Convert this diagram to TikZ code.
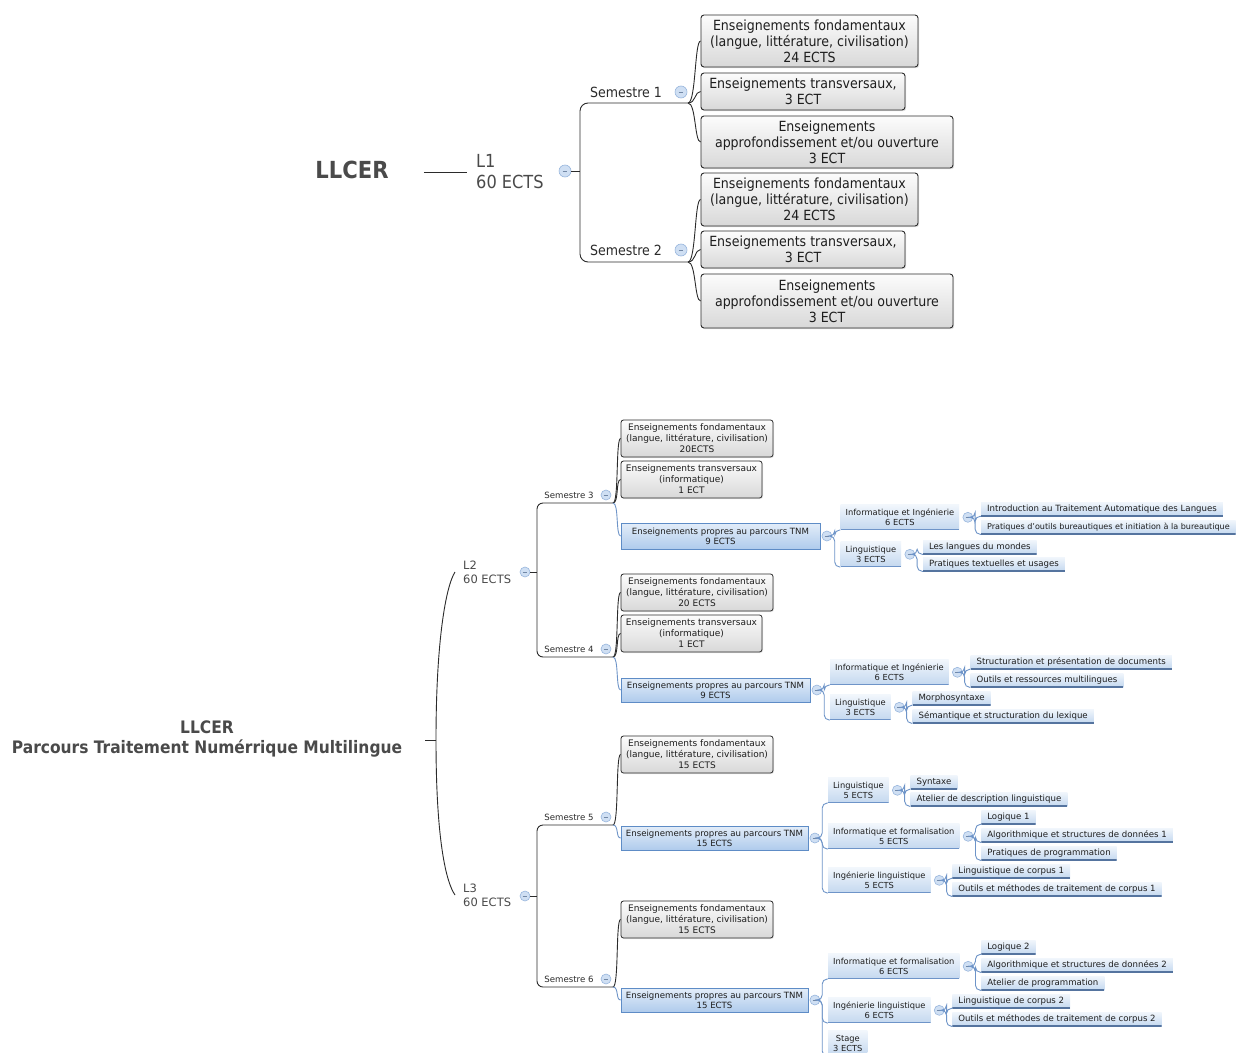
\documentclass[tikz,border=0pt]{standalone}
\usepackage{fontspec}
\setmainfont{DejaVu Sans}
\newfontfamily\condf{DejaVu Sans Condensed}
\usetikzlibrary{calc,shadows}

\definecolor{darkline}{HTML}{2B2B2B}
\definecolor{blueline}{HTML}{6E94C8}
\definecolor{leafline}{HTML}{55749F}
\definecolor{greytxt}{HTML}{4A4A4A}
\definecolor{boxtxt}{HTML}{1E1E1E}
\definecolor{grtop}{HTML}{FCFCFC}
\definecolor{grbot}{HTML}{D8D8D8}
\definecolor{bltop}{HTML}{E3EDF9}
\definecolor{blbot}{HTML}{AFCBEC}
\definecolor{bxborder}{HTML}{5E8CC6}
\definecolor{lftop}{HTML}{F1F6FC}
\definecolor{lfbot}{HTML}{C4D8EF}
\definecolor{cfill}{HTML}{CFDFF3}
\definecolor{cdraw}{HTML}{98B6DD}

\newcommand\mysmallf{\fontsize{8.6}{10}\selectfont}
\newcommand\mysubf{\fontsize{8.3}{10}\selectfont}
\newcommand\mygreyf{\fontsize{9}{11}\selectfont}
\newcommand\mytopf{\condf\fontsize{14}{16}\selectfont}

\tikzset{
  conn/.style={draw=darkline, line width=0.9pt},
  bcurve/.style={draw=blueline, line width=0.9pt},
  bconn/.style={draw=blueline, line width=0.9pt, rounded corners=5pt},
  topbox/.style={draw=darkline, line width=0.9pt, rounded corners=3pt,
    top color=grtop, bottom color=grbot, align=center, inner sep=0pt,
    text=boxtxt, font=\mytopf,
    drop shadow={shadow xshift=1.2pt, shadow yshift=-1.2pt, opacity=0.25}},
  greybox/.style={draw=darkline, line width=0.8pt, rounded corners=2.5pt,
    top color=grtop, bottom color=grbot, align=center, inner sep=0pt,
    text=boxtxt, font=\mygreyf,
    drop shadow={shadow xshift=1pt, shadow yshift=-1pt, opacity=0.2}},
  bluebox/.style={draw=bxborder, line width=0.8pt,
    top color=bltop, bottom color=blbot, align=center, inner sep=0pt,
    text=boxtxt, font=\mysmallf,
    drop shadow={shadow xshift=1pt, shadow yshift=-1pt, opacity=0.15}},
  subbox/.style={top color=lftop, bottom color=lfbot, align=center,
    inner xsep=5pt, inner ysep=2pt, minimum height=25pt, font=\mysubf,
    text=boxtxt, anchor=south west,
    path picture={\draw[blueline, line width=1.8pt]
      (path picture bounding box.south west) -- (path picture bounding box.south east);}},
  leaf/.style={top color=lftop, bottom color=lfbot, inner xsep=6pt, inner ysep=0pt,
    minimum height=14pt, text height=6.5pt, text depth=1.8pt, font=\mysmallf,
    text=boxtxt, anchor=south west,
    path picture={\draw[leafline, line width=1.8pt]
      (path picture bounding box.south west) -- (path picture bounding box.south east);}},
  collapse/.style={circle, inner sep=0pt, minimum size=10pt, fill=cfill, draw=cdraw,
    line width=0.6pt,
    path picture={\draw[cdraw!75!black, line width=0.6pt]
      ([xshift=-2.3pt]path picture bounding box.center) -- ([xshift=2.3pt]path picture bounding box.center);}},
  bigcollapse/.style={collapse, minimum size=12pt},
  semlab/.style={inner sep=0pt, text=darkline, font=\mysmallf},
}

\begin{document}
\begin{tikzpicture}[x=1pt,y=-1pt]
\useasboundingbox (0,0) rectangle (1239,1052);
\fill[white] (0,0) rectangle (1239,1052);

%% ================= TOP: L1 =================
\node[font=\condf\bfseries\fontsize{23.5}{26}\selectfont, text=greytxt, inner sep=0pt] (t0) at (352,170) {LLCER};
\node[font=\condf\fontsize{18}{21}\selectfont, text=greytxt, align=left, anchor=west, inner sep=0pt] (l1) at (476,172) {L1\\60 ECTS};
\draw[conn] ($(t0.east)+(35,2)$) -- ($(l1.west)+(-9,0)$);
\node[bigcollapse] (cl1) at (565,171) {};
\coordinate (sp1) at (580,171);
\draw[conn] (cl1.east) -- (sp1);
\coordinate (j1) at (688,103);
\coordinate (j2) at (688,262);
\draw[conn, rounded corners=8pt] (j1) -- (580,103) -- (580,262) -- (j2);
\node[inner sep=0pt, text=darkline, font=\mytopf] (s1) at (626,92) {Semestre 1};
\node[inner sep=0pt, text=darkline, font=\mytopf] (s2) at (626,250) {Semestre 2};
\node[bigcollapse] (cs1) at (681,92) {};
\node[bigcollapse] (cs2) at (681,250) {};

\node[topbox, minimum width=217pt, minimum height=52pt] (b1) at (809.5,41) {Enseignements fondamentaux\\(langue, littérature, civilisation)\\24 ECTS};
\node[topbox, minimum width=204pt, minimum height=37pt] (b2) at (803,91.5) {Enseignements transversaux,\\3 ECT};
\node[topbox, minimum width=252pt, minimum height=52pt] (b3) at (827,142) {Enseignements\\approfondissement et/ou ouverture\\3 ECT};
\node[topbox, minimum width=217pt, minimum height=53pt] (b4) at (809.5,199.5) {Enseignements fondamentaux\\(langue, littérature, civilisation)\\24 ECTS};
\node[topbox, minimum width=204pt, minimum height=37pt] (b5) at (803,249.5) {Enseignements transversaux,\\3 ECT};
\node[topbox, minimum width=252pt, minimum height=54pt] (b6) at (827,301) {Enseignements\\approfondissement et/ou ouverture\\3 ECT};

\foreach \b in {b1,b2,b3} {\draw[conn] (j1) .. controls +(8,0) and +(-6,0) .. (\b.west);}
\foreach \b in {b4,b5,b6} {\draw[conn] (j2) .. controls +(8,0) and +(-6,0) .. (\b.west);}

%% ================= BOTTOM: title =================
\node[font=\condf\bfseries\fontsize{17.2}{20}\selectfont, text=greytxt, align=center, inner sep=0pt] (t1) at (207,739) {LLCER\\Parcours Traitement Numérrique Multilingue};
\coordinate (tj) at (436,740);
\draw[conn] ($(t1.east)+(23,1)$) -- (tj);

\node[font=\fontsize{11.5}{14}\selectfont, text=greytxt, align=left, anchor=west, inner sep=0pt] (l2) at (463,572) {L2\\60 ECTS};
\node[font=\fontsize{11.5}{14}\selectfont, text=greytxt, align=left, anchor=west, inner sep=0pt] (l3) at (463,895) {L3\\60 ECTS};
\draw[conn] (tj) .. controls (436,640) and (446,586) .. ($(l2.west)+(-8,0)$);
\draw[conn] (tj) .. controls (436,840) and (446,882) .. ($(l3.west)+(-8,0)$);

%% ---------- L2 ----------
\node[collapse] (cl2) at (525,572) {};
\coordinate (sp2) at (537,572);
\draw[conn] (cl2.east) -- (sp2);
\coordinate (j3) at (613,503);
\coordinate (j4) at (613,657);
\draw[conn, rounded corners=6pt] (j3) -- (537,503) -- (537,657) -- (j4);
\node[semlab] (s3) at (569,495) {Semestre 3};
\node[semlab] (s4) at (569,649) {Semestre 4};
\node[collapse] (cs3) at (606,495) {};
\node[collapse] (cs4) at (606,649) {};

\node[greybox, minimum width=152pt, minimum height=37pt] (A) at (697,438.5) {Enseignements fondamentaux\\(langue, littérature, civilisation)\\20ECTS};
\node[greybox, minimum width=141pt, minimum height=37pt] (B) at (691.5,479.5) {Enseignements transversaux\\(informatique)\\1 ECT};
\node[bluebox, minimum width=199pt, minimum height=26pt] (C) at (720.5,536) {Enseignements propres au parcours TNM\\9 ECTS};
\node[greybox, minimum width=152pt, minimum height=37pt] (D) at (697,592.5) {Enseignements fondamentaux\\(langue, littérature, civilisation)\\20 ECTS};
\node[greybox, minimum width=141pt, minimum height=37pt] (E) at (691.5,633.5) {Enseignements transversaux\\(informatique)\\1 ECT};
\node[bluebox, minimum width=189pt, minimum height=24pt] (F) at (715.5,690) {Enseignements propres au parcours TNM\\9 ECTS};

\draw[conn] (j3) .. controls +(6,0) and +(-5,0) .. (A.west);
\draw[conn] (j3) .. controls +(6,0) and +(-5,0) .. (B.west);
\draw[bcurve] (j3) .. controls +(6,0) and +(-5,0) .. (C.west);
\draw[conn] (j4) .. controls +(6,0) and +(-5,0) .. (D.west);
\draw[conn] (j4) .. controls +(6,0) and +(-5,0) .. (E.west);
\draw[bcurve] (j4) .. controls +(6,0) and +(-5,0) .. (F.west);

%% S3 TNM details
\node[collapse] (cC) at ([xshift=6.5pt]C.east) {};
\node[subbox] (s3i) at ($(cC.center)+(13.5,-6)$) {Informatique et Ingénierie\\6 ECTS};
\node[subbox] (s3l) at ($(cC.center)+(13.5,31)$) {Linguistique\\3 ECTS};
\draw[bconn] (cC.east) -- ++(2.5,0) |- (s3i.south west);
\draw[bconn] (cC.east) -- ++(2.5,0) |- (s3l.south west);
\node[collapse] (cs3i) at ([xshift=8.5pt]s3i.east) {};
\node[leaf] (lf1) at ($(cs3i.center)+(13,-1)$) {Introduction au Traitement Automatique des Langues};
\node[leaf, font=\fontsize{8.05}{10}\selectfont] (lf2) at ($(cs3i.center)+(13,17)$) {Pratiques d'outils bureautiques et initiation à la bureautique};
\draw[bconn] (cs3i.east) -- ++(2,0) |- (lf1.south west);
\draw[bconn] (cs3i.east) -- ++(2,0) |- (lf2.south west);
\node[collapse] (cs3l) at ([xshift=8.5pt]s3l.east) {};
\node[leaf] (lf3) at ($(cs3l.center)+(13,0)$) {Les langues du mondes};
\node[leaf] (lf4) at ($(cs3l.center)+(13,17)$) {Pratiques textuelles et usages};
\draw[bconn] (cs3l.east) -- ++(2,0) |- (lf3.south west);
\draw[bconn] (cs3l.east) -- ++(2,0) |- (lf4.south west);

%% S4 TNM details
\node[collapse] (cF) at ([xshift=6.5pt]F.east) {};
\node[subbox] (s4i) at ($(cF.center)+(13,-5)$) {Informatique et Ingénierie\\6 ECTS};
\node[subbox] (s4l) at ($(cF.center)+(13,30)$) {Linguistique\\3 ECTS};
\draw[bconn] (cF.east) -- ++(2,0) |- (s4i.south west);
\draw[bconn] (cF.east) -- ++(2,0) |- (s4l.south west);
\node[collapse] (cs4i) at ([xshift=8.5pt]s4i.east) {};
\node[leaf] (lf5) at ($(cs4i.center)+(13,-3)$) {Structuration et présentation de documents};
\node[leaf] (lf6) at ($(cs4i.center)+(13,15)$) {Outils et ressources multilingues};
\draw[bconn] (cs4i.east) -- ++(2,0) |- (lf5.south west);
\draw[bconn] (cs4i.east) -- ++(2,0) |- (lf6.south west);
\node[collapse] (cs4l) at ([xshift=8.5pt]s4l.east) {};
\node[leaf] (lf7) at ($(cs4l.center)+(13,-2)$) {Morphosyntaxe};
\node[leaf] (lf8) at ($(cs4l.center)+(13,16)$) {Sémantique et structuration du lexique};
\draw[bconn] (cs4l.east) -- ++(2,0) |- (lf7.south west);
\draw[bconn] (cs4l.east) -- ++(2,0) |- (lf8.south west);

%% ---------- L3 ----------
\node[collapse] (cl3) at (525,896) {};
\coordinate (sp3) at (537,896);
\draw[conn] (cl3.east) -- (sp3);
\coordinate (j5) at (613,825);
\coordinate (j6) at (613,987);
\draw[conn, rounded corners=6pt] (j5) -- (537,825) -- (537,987) -- (j6);
\node[semlab] (s5) at (569,817) {Semestre 5};
\node[semlab] (s6) at (569,979) {Semestre 6};
\node[collapse] (cs5) at (606,817) {};
\node[collapse] (cs6) at (606,979) {};

\node[greybox, minimum width=152pt, minimum height=37pt] (G) at (697,754.5) {Enseignements fondamentaux\\(langue, littérature, civilisation)\\15 ECTS};
\node[bluebox, minimum width=187pt, minimum height=24pt] (H) at (714.5,838) {Enseignements propres au parcours TNM\\15 ECTS};
\node[greybox, minimum width=152pt, minimum height=37pt] (I) at (697,919.5) {Enseignements fondamentaux\\(langue, littérature, civilisation)\\15 ECTS};
\node[bluebox, minimum width=187pt, minimum height=24pt] (J) at (714.5,1000) {Enseignements propres au parcours TNM\\15 ECTS};

\draw[conn] (j5) .. controls +(6,0) and +(-5,0) .. (G.west);
\draw[bcurve] (j5) .. controls +(6,0) and +(-5,0) .. (H.west);
\draw[conn] (j6) .. controls +(6,0) and +(-5,0) .. (I.west);
\draw[bcurve] (j6) .. controls +(6,0) and +(-5,0) .. (J.west);

%% S5 TNM details
\node[collapse] (cH) at ([xshift=6.5pt]H.east) {};
\node[subbox] (s5l) at ($(cH.center)+(13,-35)$) {Linguistique\\5 ECTS};
\node[subbox] (s5i) at ($(cH.center)+(13,11)$) {Informatique et formalisation\\5 ECTS};
\node[subbox] (s5g) at ($(cH.center)+(13,55)$) {Ingénierie linguistique\\5 ECTS};
\draw[bconn] (cH.east) -- ++(2,0) |- (s5l.south west);
\draw[bconn] (cH.east) -- ++(2,0) |- (s5i.south west);
\draw[bconn] (cH.east) -- ++(2,0) |- (s5g.south west);
\node[collapse] (cs5l) at ([xshift=8.5pt]s5l.east) {};
\node[leaf] (lf9) at ($(cs5l.center)+(13,-1)$) {Syntaxe};
\node[leaf] (lf10) at ($(cs5l.center)+(13,16)$) {Atelier de description linguistique};
\draw[bconn] (cs5l.east) -- ++(2,0) |- (lf9.south west);
\draw[bconn] (cs5l.east) -- ++(2,0) |- (lf10.south west);
\node[collapse] (cs5i) at ([xshift=8.5pt]s5i.east) {};
\node[leaf] (lf11) at ($(cs5i.center)+(13,-12)$) {Logique 1};
\node[leaf] (lf12) at ($(cs5i.center)+(13,6)$) {Algorithmique et structures de données 1};
\node[leaf] (lf13) at ($(cs5i.center)+(13,24)$) {Pratiques de programmation};
\draw[bconn] (cs5i.east) -- ++(2,0) |- (lf11.south west);
\draw[bconn] (cs5i.east) -- ++(2,0) |- (lf12.south west);
\draw[bconn] (cs5i.east) -- ++(2,0) |- (lf13.south west);
\node[collapse] (cs5g) at ([xshift=8.5pt]s5g.east) {};
\node[leaf] (lf14) at ($(cs5g.center)+(13,-2)$) {Linguistique de corpus 1};
\node[leaf] (lf15) at ($(cs5g.center)+(13,16)$) {Outils et méthodes de traitement de corpus 1};
\draw[bconn] (cs5g.east) -- ++(2,0) |- (lf14.south west);
\draw[bconn] (cs5g.east) -- ++(2,0) |- (lf15.south west);

%% S6 TNM details
\node[collapse] (cJ) at ([xshift=6.5pt]J.east) {};
\node[subbox] (s6i) at ($(cJ.center)+(13,-21)$) {Informatique et formalisation\\6 ECTS};
\node[subbox] (s6g) at ($(cJ.center)+(13,23)$) {Ingénierie linguistique\\6 ECTS};
\node[subbox] (s6s) at ($(cJ.center)+(13,56)$) {Stage\\3 ECTS};
\draw[bconn] (cJ.east) -- ++(2,0) |- (s6i.south west);
\draw[bconn] (cJ.east) -- ++(2,0) |- (s6g.south west);
\draw[bconn] (cJ.east) -- ++(2,0) |- (s6s.south west);
\node[collapse] (cs6i) at ([xshift=8.5pt]s6i.east) {};
\node[leaf] (lf16) at ($(cs6i.center)+(13,-12)$) {Logique 2};
\node[leaf] (lf17) at ($(cs6i.center)+(13,6)$) {Algorithmique et structures de données 2};
\node[leaf] (lf18) at ($(cs6i.center)+(13,24)$) {Atelier de programmation};
\draw[bconn] (cs6i.east) -- ++(2,0) |- (lf16.south west);
\draw[bconn] (cs6i.east) -- ++(2,0) |- (lf17.south west);
\draw[bconn] (cs6i.east) -- ++(2,0) |- (lf18.south west);
\node[collapse] (cs6g) at ([xshift=8.5pt]s6g.east) {};
\node[leaf] (lf19) at ($(cs6g.center)+(13,-2)$) {Linguistique de corpus 2};
\node[leaf] (lf20) at ($(cs6g.center)+(13,16)$) {Outils et méthodes de traitement de corpus 2};
\draw[bconn] (cs6g.east) -- ++(2,0) |- (lf19.south west);
\draw[bconn] (cs6g.east) -- ++(2,0) |- (lf20.south west);

\end{tikzpicture}
\end{document}
